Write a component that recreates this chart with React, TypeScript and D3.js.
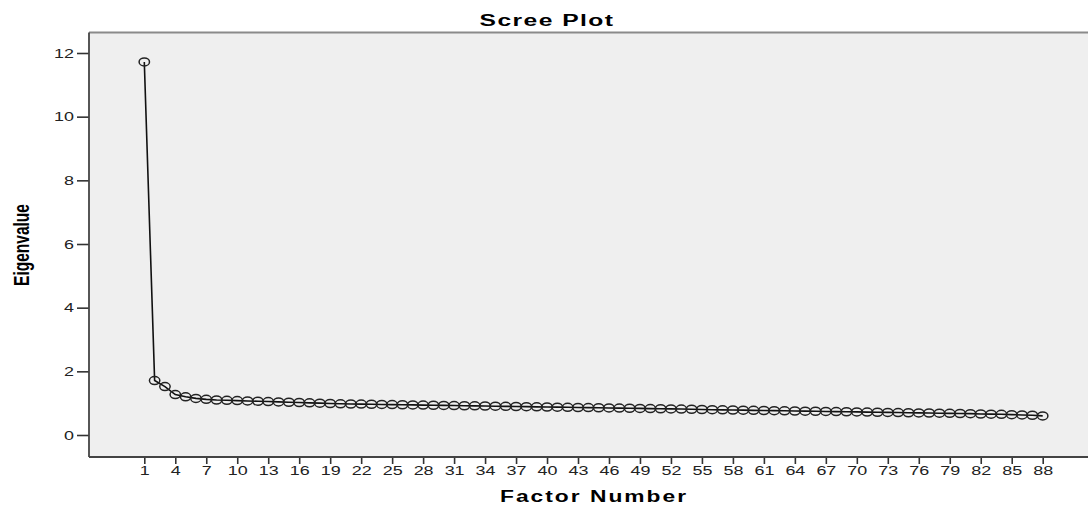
import React, { useEffect, useRef } from 'react';
import * as d3 from 'd3';

// factor numbers 1..88 and eigenvalues
const eigenvalues: number[] = [
  11.72, 1.71, 1.52, 1.27, 1.2, 1.15, 1.12, 1.1, 1.09, 1.08,
  1.07, 1.06, 1.05, 1.04, 1.03, 1.02, 1.01, 1.0, 0.99, 0.98,
  0.975, 0.97, 0.965, 0.96, 0.955, 0.95, 0.945, 0.94, 0.935, 0.93,
  0.925, 0.92, 0.915, 0.91, 0.905, 0.9, 0.895, 0.89, 0.885, 0.88,
  0.875, 0.87, 0.865, 0.86, 0.855, 0.85, 0.845, 0.84, 0.835, 0.83,
  0.825, 0.82, 0.815, 0.81, 0.8, 0.795, 0.79, 0.785, 0.78, 0.775,
  0.77, 0.765, 0.76, 0.755, 0.75, 0.745, 0.74, 0.735, 0.73, 0.725,
  0.72, 0.715, 0.71, 0.705, 0.7, 0.695, 0.69, 0.685, 0.68, 0.675,
  0.67, 0.66, 0.655, 0.65, 0.64, 0.63, 0.62, 0.6,
];
const factors: number[] = eigenvalues.map((_, i) => i + 1);
const xTicks: number[] = [1, 4, 7, 10, 13, 16, 19, 22, 25, 28, 31, 34, 37, 40, 43, 46, 49, 52, 55, 58, 61, 64, 67, 70, 73, 76, 79, 82, 85, 88];
const yTicks: number[] = [0, 2, 4, 6, 8, 10, 12];

export default function App() {
  const svgRef = useRef<SVGSVGElement>(null);

  useEffect(() => {
    const w = 1088;
    const h = 506;
    const plot = { left: 89, top: 32.5, right: 1090, bottom: 457 };
    const font = "'Liberation Sans', Arial, sans-serif";
    const stretch = 1.38; // the source picture is stretched sideways

    const svg = d3.select(svgRef.current).attr('width', w).attr('height', h);
    svg.selectAll('*').remove();

    const x = d3.scaleLinear().domain([1, 88]).range([144.3, 1042.7]);
    const y = d3.scaleLinear().domain([0, 12]).range([435, 53]);

    // plot background
    svg
      .append('rect')
      .attr('x', plot.left)
      .attr('y', plot.top)
      .attr('width', plot.right - plot.left)
      .attr('height', plot.bottom - plot.top)
      .attr('fill', '#efefef');

    // top frame line
    svg
      .append('line')
      .attr('x1', plot.left)
      .attr('x2', plot.right)
      .attr('y1', plot.top)
      .attr('y2', plot.top)
      .attr('stroke', '#8a8a8a')
      .attr('stroke-width', 2);

    // y axis
    const yAxis = d3.axisLeft(y).tickValues(yTicks).tickSize(12).tickPadding(3).tickFormat(d3.format('d'));
    const gy = svg.append('g').attr('transform', `translate(${plot.left},0)`).call(yAxis);
    gy.select('.domain').remove();
    gy.append('line')
      .attr('x1', 0)
      .attr('x2', 0)
      .attr('y1', plot.top)
      .attr('y2', plot.bottom)
      .attr('stroke', '#444')
      .attr('stroke-width', 1.8);

    // x axis
    const xAxis = d3.axisBottom(x).tickValues(xTicks).tickSize(7).tickPadding(2).tickFormat(d3.format('d'));
    const gx = svg.append('g').attr('transform', `translate(0,${plot.bottom})`).call(xAxis);
    gx.select('.domain').remove();
    gx.append('line')
      .attr('x1', plot.left)
      .attr('x2', plot.right)
      .attr('y1', 0)
      .attr('y2', 0)
      .attr('stroke', '#444')
      .attr('stroke-width', 1.8);

    [gx, gy].forEach((g) => {
      g.selectAll('.tick line').attr('stroke', '#333').attr('stroke-width', 1.6);
      g.selectAll('.tick text')
        .attr('fill', '#222')
        .attr('transform', `scale(${stretch},1)`)
        .style('font-family', font)
        .style('font-size', '13px');
    });
    gy.selectAll('.tick text').attr('x', -15 / stretch);

    // line
    const line = d3
      .line<number>()
      .x((d, i) => x(factors[i]))
      .y((d) => y(d));
    svg
      .append('path')
      .datum(eigenvalues)
      .attr('d', line)
      .attr('fill', 'none')
      .attr('stroke', '#111')
      .attr('stroke-width', 1.6);

    // markers
    svg
      .append('g')
      .selectAll('ellipse')
      .data(eigenvalues)
      .join('ellipse')
      .attr('cx', (d, i) => x(factors[i]))
      .attr('cy', (d) => y(d))
      .attr('rx', 5.2)
      .attr('ry', 4)
      .attr('fill', 'none')
      .attr('stroke', '#222')
      .attr('stroke-width', 1.5);

    // titles
    svg
      .append('text')
      .attr('transform', `translate(547,26) scale(1.45,1)`)
      .attr('text-anchor', 'middle')
      .style('font-family', font)
      .style('font-weight', 'bold')
      .style('font-size', '17px')
      .style('letter-spacing', '1px')
      .text('Scree Plot');

    svg
      .append('text')
      .attr('transform', `translate(594,502) scale(1.34,1)`)
      .attr('text-anchor', 'middle')
      .style('font-family', font)
      .style('font-weight', 'bold')
      .style('font-size', '17px')
      .style('letter-spacing', '1.5px')
      .text('Factor Number');

    svg
      .append('text')
      .attr('transform', 'translate(29,245) rotate(-90) scale(1,1.4)')
      .attr('text-anchor', 'middle')
      .style('font-family', font)
      .style('font-weight', 'bold')
      .style('font-size', '15.5px')
      .text('Eigenvalue');
  }, []);

  return (
    <svg
      ref={svgRef}
      style={{ position: 'absolute', left: 0, top: 0, background: '#fff', overflow: 'hidden' }}
    ></svg>
  );
}
